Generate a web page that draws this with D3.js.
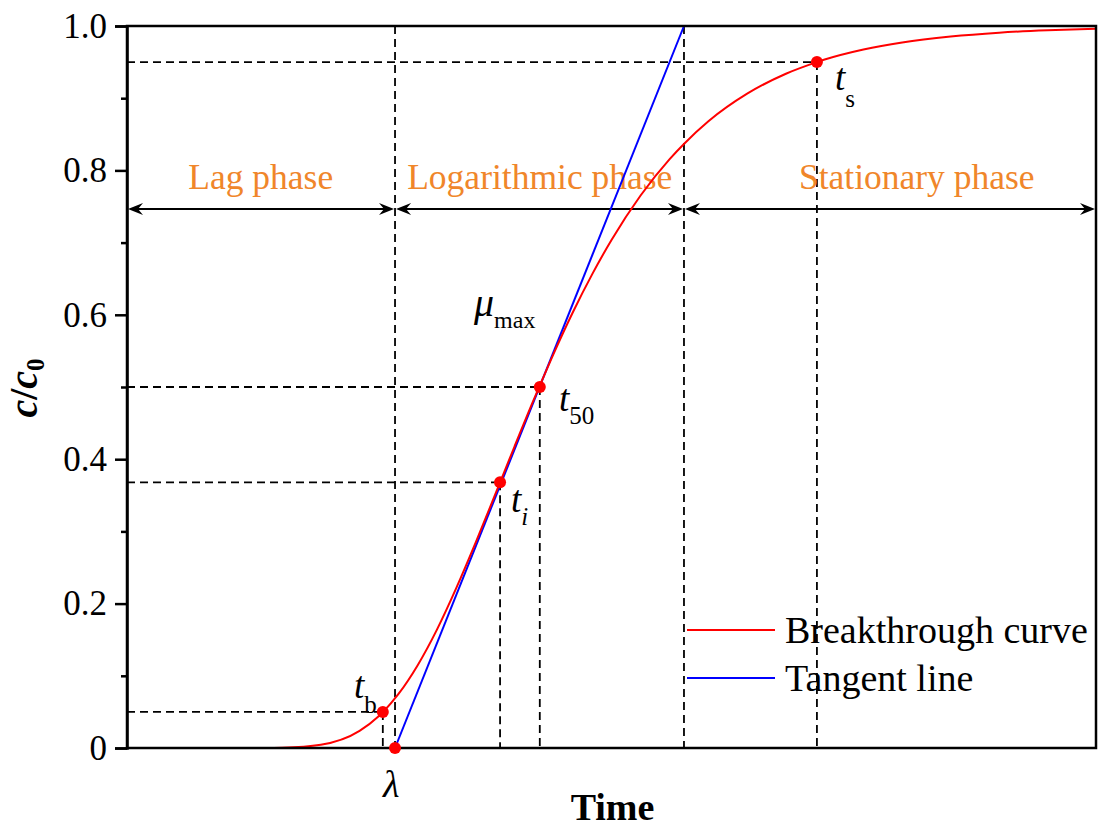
<!DOCTYPE html>
<html>
<head>
<meta charset="utf-8">
<script src="https://cdn.jsdelivr.net/npm/d3@7/dist/d3.min.js"></script>
<style>
  html, body { margin: 0; padding: 0; background: #fff; }
  svg { display: block; }
  text { font-family: "Liberation Serif", "Times New Roman", serif; }
</style>
</head>
<body>
<svg id="chart" width="1099" height="830"></svg>
<script>
// Breakthrough curve sampled along the time axis (arbitrary time units)
const curveTime = [14, 16, 20, 24, 26, 26.4, 28, 30, 32, 34, 36, 38, 38.5, 40, 42, 42.6, 44, 46, 48, 50, 53, 56, 57.5, 60, 64, 68, 71.2, 72, 76, 80, 85, 90, 95, 100];
const curveValue = [0.0000, 0.0004, 0.0046, 0.0238, 0.0444, 0.0496, 0.0745, 0.1147, 0.1643, 0.2220, 0.2850, 0.3512, 0.3679, 0.4179, 0.4831, 0.5020, 0.5453, 0.6032, 0.6560, 0.7036, 0.7652, 0.8157, 0.8370, 0.8680, 0.9062, 0.9339, 0.9500, 0.9535, 0.9674, 0.9773, 0.9855, 0.9908, 0.9941, 0.9963];

// Tangent line at maximum rate: from the lag time up to c/c0 = 1
const tangentTime = [27.66, 57.48];
const tangentValue = [0, 1];

// Characteristic points
const pointNames = ["tb", "lambda", "ti", "t50", "ts"];
const pointTime = [26.4, 27.66, 38.5, 42.6, 71.2];
const pointValue = [0.05, 0, 0.368, 0.5, 0.95];

// Phase boundaries and names
const phaseNames = ["Lag phase", "Logarithmic phase", "Stationary phase"];
const phaseStart = [0, 27.66, 57.48];
const phaseEnd = [27.66, 57.48, 100];
const phaseLabelTime = [13.8, 42.6, 81.5];

// Axis ticks
const yMajorTicks = [0, 0.2, 0.4, 0.6, 0.8, 1.0];
const yMinorTicks = [0.1, 0.3, 0.5, 0.7, 0.9];
const legendNames = ["Breakthrough curve", "Tangent line"];

const RED = "#ff0000", BLUE = "#0000ff", ORANGE = "#f0862a";

const svg = d3.select("#chart");
const m = { left: 127, right: 1096, top: 26, bottom: 748 };

const x = d3.scaleLinear().domain([0, 100]).range([m.left, m.right]);
const y = d3.scaleLinear().domain([0, 1]).range([m.bottom, m.top]);

const dash = "8,5";
const dashed = svg.append("g").attr("stroke", "#000").attr("stroke-width", 1.8)
  .attr("stroke-dasharray", dash).attr("fill", "none");

// horizontal guides from the axis to each marked point
[0, 2, 3, 4].forEach(i => {
  dashed.append("line")
    .attr("x1", x(0)).attr("x2", x(pointTime[i]))
    .attr("y1", y(pointValue[i])).attr("y2", y(pointValue[i]));
});
// vertical guides from each marked point down to the time axis
[0, 2, 3, 4].forEach(i => {
  dashed.append("line")
    .attr("x1", x(pointTime[i])).attr("x2", x(pointTime[i]))
    .attr("y1", y(pointValue[i])).attr("y2", y(0));
});
// full-height phase boundaries
[phaseStart[1], phaseStart[2]].forEach(t => {
  dashed.append("line")
    .attr("x1", x(t)).attr("x2", x(t))
    .attr("y1", y(1)).attr("y2", y(0));
});

// phase arrows
function arrowHead(g, tipX, yy, dir) {
  const L = 15, W = 6, N = 5;
  const p = [
    [tipX, yy],
    [tipX + dir * L, yy - W],
    [tipX + dir * (L - N), yy],
    [tipX + dir * L, yy + W]
  ];
  g.append("path").attr("d", "M" + p.map(d => d.join(",")).join("L") + "Z")
    .attr("fill", "#000");
}
const arrowY = 209;
const arrows = svg.append("g");
phaseNames.forEach((name, i) => {
  const x1 = x(phaseStart[i]) + 1, x2 = x(phaseEnd[i]) - 1;
  arrows.append("line").attr("x1", x1 + 6).attr("x2", x2 - 6)
    .attr("y1", arrowY).attr("y2", arrowY)
    .attr("stroke", "#000").attr("stroke-width", 2);
  arrowHead(arrows, x1, arrowY, 1);
  arrowHead(arrows, x2, arrowY, -1);
  svg.append("text")
    .attr("x", x(phaseLabelTime[i])).attr("y", 189)
    .attr("text-anchor", "middle")
    .attr("font-size", 35.5).attr("fill", ORANGE)
    .text(name);
});

// tangent line
svg.append("path")
  .datum(tangentTime.map((t, i) => [t, tangentValue[i]]))
  .attr("d", d3.line().x(d => x(d[0])).y(d => y(d[1])))
  .attr("fill", "none").attr("stroke", BLUE).attr("stroke-width", 2);

// breakthrough curve
svg.append("path")
  .datum(curveTime.map((t, i) => [t, curveValue[i]]))
  .attr("d", d3.line().x(d => x(d[0])).y(d => y(d[1])).curve(d3.curveMonotoneX))
  .attr("fill", "none").attr("stroke", RED).attr("stroke-width", 2);

// frame
svg.append("rect")
  .attr("x", m.left).attr("y", m.top)
  .attr("width", m.right - m.left).attr("height", m.bottom - m.top)
  .attr("fill", "none").attr("stroke", "#000").attr("stroke-width", 2.5);

// y axis
const yAxis = d3.axisLeft(y).tickValues(yMajorTicks).tickSize(12).tickPadding(8)
  .tickFormat(d => d === 0 ? "0" : d.toFixed(1));
const ya = svg.append("g").attr("transform", `translate(${m.left},0)`).call(yAxis);
ya.select(".domain").attr("stroke-width", 2.5);
ya.selectAll(".tick line").attr("stroke-width", 2.5);
ya.selectAll(".tick text").attr("font-size", 35)
  .attr("font-family", "'Liberation Serif', serif").attr("fill", "#000");
const yMinor = d3.axisLeft(y).tickValues(yMinorTicks).tickSize(6).tickFormat("");
const ym = svg.append("g").attr("transform", `translate(${m.left},0)`).call(yMinor);
ym.select(".domain").remove();
ym.selectAll(".tick line").attr("stroke-width", 2.5);

// markers
svg.append("g").selectAll("circle")
  .data(pointNames.map((n, i) => ({ n, t: pointTime[i], v: pointValue[i] })))
  .join("circle")
  .attr("cx", d => x(d.t)).attr("cy", d => y(d.v)).attr("r", 6)
  .attr("fill", RED);

// point annotations
function subLabel(px, py, main, sub, mainSize, subSize, subDy, mainItalic, subItalic) {
  const t = svg.append("text").attr("x", px).attr("y", py);
  t.append("tspan").attr("font-size", mainSize)
    .attr("font-style", mainItalic ? "italic" : "normal").text(main);
  if (sub) {
    t.append("tspan").attr("font-size", subSize).attr("dy", subDy)
      .attr("font-style", subItalic ? "italic" : "normal").text(sub);
  }
  return t;
}
subLabel(354, 698, "t", "b", 37, 25, 15, true, false);
subLabel(x(pointTime[1]) - 12, 797, "λ", null, 38, 0, 0, true, false);
subLabel(474, 316, "μ", "max", 40, 24, 12, true, false);
subLabel(559, 411, "t", "50", 37, 25, 13, true, false);
subLabel(511, 512, "t", "i", 37, 25, 13, true, true);
subLabel(835, 90, "t", "s", 37, 25, 17, true, false);

// legend
const legend = svg.append("g");
[RED, BLUE].forEach((c, i) => {
  const ly = 630 + i * 48;
  legend.append("line").attr("x1", 687).attr("x2", 775)
    .attr("y1", ly).attr("y2", ly).attr("stroke", c).attr("stroke-width", 2);
  legend.append("text").attr("x", 785).attr("y", ly + 13)
    .attr("font-size", 38).attr("fill", "#000").text(legendNames[i]);
});

// axis titles
svg.append("text")
  .attr("x", (m.left + m.right) / 2 + 1).attr("y", 820)
  .attr("text-anchor", "middle").attr("font-size", 38).attr("font-weight", "bold")
  .text("Time");

const yt = svg.append("text")
  .attr("transform", "translate(37,388) rotate(-90)")
  .attr("text-anchor", "middle").attr("font-size", 40).attr("font-weight", "bold");
yt.append("tspan").attr("font-style", "italic").text("c");
yt.append("tspan").text("/");
yt.append("tspan").attr("font-style", "italic").text("c");
yt.append("tspan").attr("font-size", 25).attr("dy", 7).text("0");
</script>
</body>
</html>
